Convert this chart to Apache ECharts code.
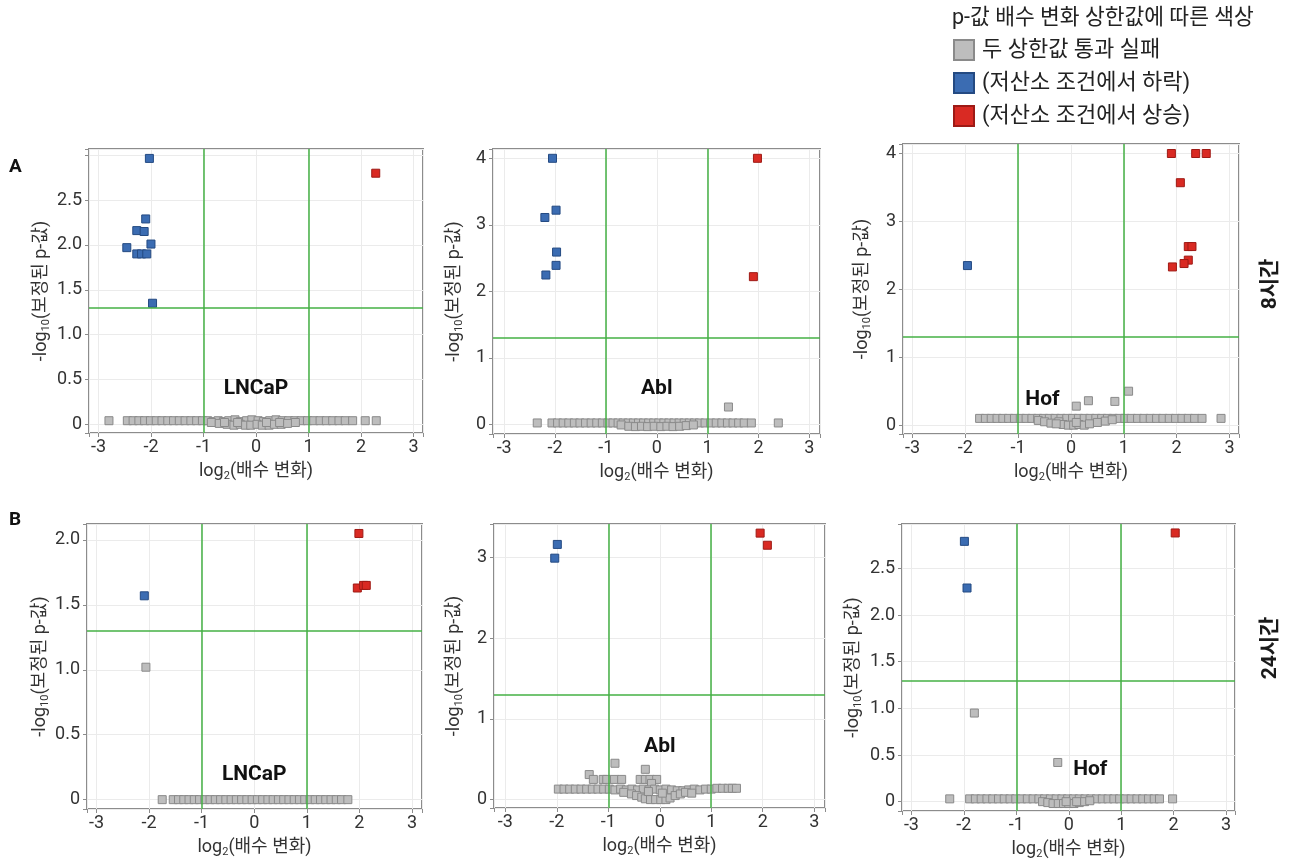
<!DOCTYPE html>
<html><head><meta charset="utf-8">
<script src="https://cdn.jsdelivr.net/npm/echarts@6/dist/echarts.min.js"></script>
<style>html,body{margin:0;padding:0;background:#fff}#c{width:1295px;height:865px}</style>
</head><body><div id="c"></div>
<script>
const FONT = 'Roboto, "Noto Sans CJK KR", sans-serif';
const seriesNames = ['두 상한값 통과 실패', '(저산소 조건에서 하락)', '(저산소 조건에서 상승)'];
const legendTitle = 'p-값 배수 변화 상한값에 따른 색상';
const cellLines = ['LNCaP', 'Abl', 'Hof', 'LNCaP', 'Abl', 'Hof'];
const timeLabels = ['8시간', '24시간'];
const panelLetters = ['A', 'B'];
const xAxisTitle = 'log{s|2}(배수 변화)';
const yAxisTitle = '-log{s|10}(보정된 p-값)';
const foldThresholds = [-1, 1];
const pThreshold = 1.301;

// ---- 8 h, LNCaP ----
const lncap8Down = [[-2.03,2.965],[-2.10,2.29],[-2.27,2.16],[-2.13,2.15],[-2.00,2.01],[-2.46,1.97],[-2.27,1.90],[-2.18,1.90],[-2.08,1.90],[-1.97,1.35]];
const lncap8Up = [[2.28,2.80]];
const lncap8NS = [[-2.80,0.04],[-2.45,0.04],[-2.34,0.04],[-2.23,0.04],[-2.12,0.04],[-2.01,0.04],[-1.90,0.04],[-1.79,0.04],[-1.68,0.04],[-1.57,0.04],[-1.46,0.04],[-1.35,0.04],[-1.24,0.04],[-1.13,0.04],[-1.02,0.04],[-0.92,0.04],[-0.82,0.03],[-0.72,0.04],[-0.62,0.03],[-0.52,0.04],[-0.40,0.05],[-0.30,0.03],[-0.18,0.04],[-0.08,0.05],[0.04,0.04],[0.14,0.03],[0.26,0.04],[0.38,0.05],[0.50,0.04],[0.62,0.04],[0.74,0.04],[0.86,0.04],[0.98,0.04],[1.10,0.04],[1.22,0.04],[1.34,0.04],[1.46,0.04],[1.58,0.04],[1.70,0.04],[1.84,0.04],[2.08,0.04],[2.29,0.04],
  [-0.85,0.02],[-0.70,0.01],[-0.55,0.0],[-0.42,-0.01],[-0.30,0.0],[-0.20,-0.01],[-0.10,-0.01],[0.02,0.0],[0.12,-0.01],[0.25,-0.01],[0.35,0.0],[0.48,0.0],[0.60,0.01],[0.75,0.02],[-0.60,0.02],[0.20,0.02],[-0.35,0.02],[0.45,0.02]];

// ---- 8 h, Abl ----
const abl8Down = [[-2.05,4.0],[-1.98,3.22],[-2.20,3.11],[-1.97,2.59],[-1.98,2.39],[-2.18,2.245]];
const abl8Up = [[1.98,4.0],[1.90,2.22]];
const abl8NS = [[-2.35,0.02],[-2.06,0.02],[-1.95,0.02],[-1.84,0.02],[-1.73,0.02],[-1.62,0.02],[-1.51,0.02],[-1.40,0.02],[-1.29,0.02],[-1.18,0.02],[-1.07,0.02],[-0.96,0.02],[-0.86,0.02],[-0.76,0.02],[-0.66,0.02],[-0.56,0.02],[-0.46,0.02],[-0.36,0.02],[-0.26,0.02],[-0.16,0.02],[-0.06,0.02],[0.04,0.02],[0.14,0.02],[0.24,0.02],[0.34,0.02],[0.44,0.02],[0.54,0.02],[0.64,0.02],[0.74,0.02],[0.84,0.02],[0.95,0.02],[1.06,0.02],[1.17,0.02],[1.28,0.02],[1.39,0.02],[1.50,0.02],[1.61,0.02],[1.72,0.02],[1.86,0.02],[2.39,0.02],[1.41,0.26],
  [-0.70,-0.01],[-0.55,-0.03],[-0.42,-0.035],[-0.30,-0.03],[-0.18,-0.035],[-0.05,-0.03],[0.08,-0.035],[0.20,-0.03],[0.32,-0.035],[0.45,-0.03],[0.58,-0.02],[0.72,-0.01]];

// ---- 8 h, Hof ----
const hof8Down = [[-1.96,2.35]];
const hof8Up = [[1.90,4.0],[2.36,4.0],[2.56,4.0],[2.07,3.57],[2.22,2.63],[2.29,2.63],[2.22,2.43],[2.14,2.38],[1.92,2.33]];
const hof8NS = [[-1.73,0.10],[-1.62,0.10],[-1.51,0.10],[-1.40,0.10],[-1.29,0.10],[-1.18,0.10],[-1.07,0.10],[-0.96,0.10],[-0.85,0.10],[-0.74,0.10],[-0.63,0.10],[-0.52,0.10],[-0.41,0.10],[-0.30,0.10],[-0.19,0.10],[-0.08,0.10],[0.03,0.10],[0.14,0.10],[0.25,0.10],[0.36,0.10],[0.47,0.10],[0.58,0.10],[0.69,0.10],[0.80,0.10],[0.91,0.10],[1.02,0.10],[1.14,0.10],[1.26,0.10],[1.38,0.10],[1.50,0.10],[1.62,0.10],[1.74,0.10],[1.86,0.10],[1.98,0.10],[2.10,0.10],[2.22,0.10],[2.34,0.10],[2.48,0.10],[2.84,0.10],
  [0.10,0.28],[0.33,0.36],[0.83,0.35],[1.09,0.50],
  [-0.62,0.07],[-0.50,0.05],[-0.38,0.03],[-0.23,0.05],[-0.15,0.01],[-0.05,0.0],[0.05,0.0],[0.15,0.01],[0.25,0.0],[0.35,0.02],[0.50,0.04],[0.65,0.06],[0.78,0.08],[-0.28,0.02],[0.10,0.04]];

// ---- 24 h, LNCaP ----
const lncap24Down = [[-2.09,1.57]];
const lncap24Up = [[1.99,2.05],[1.96,1.63],[2.08,1.65],[2.13,1.65]];
const lncap24NS = [[-2.06,1.02],[-1.75,0.0],[-1.54,0.0],[-1.44,0.0],[-1.34,0.0],[-1.24,0.0],[-1.14,0.0],[-1.04,0.0],[-0.94,0.0],[-0.84,0.0],[-0.74,0.0],[-0.64,0.0],[-0.54,0.0],[-0.44,0.0],[-0.34,0.0],[-0.24,0.0],[-0.14,0.0],[-0.04,0.0],[0.06,0.0],[0.16,0.0],[0.26,0.0],[0.36,0.0],[0.46,0.0],[0.56,0.0],[0.66,0.0],[0.76,0.0],[0.86,0.0],[0.96,0.0],[1.06,0.0],[1.16,0.0],[1.26,0.0],[1.36,0.0],[1.46,0.0],[1.56,0.0],[1.66,0.0],[1.78,0.0]];

// ---- 24 h, Abl ----
const abl24Down = [[-1.99,3.16],[-2.04,2.99]];
const abl24Up = [[1.95,3.30],[2.09,3.15]];
const abl24NS = [[-0.87,0.45],[-0.28,0.375],[-1.37,0.31],[-1.29,0.25],[-1.10,0.25],[-1.03,0.25],[-0.88,0.25],[-0.74,0.25],[-0.38,0.25],[-0.28,0.25],[-0.19,0.25],[-0.06,0.25],[-0.16,0.20],
  [-1.97,0.13],[-1.86,0.13],[-1.75,0.13],[-1.64,0.13],[-1.53,0.13],[-1.42,0.13],[-1.31,0.13],[-1.20,0.13],[-1.09,0.13],[-0.98,0.13],[-0.87,0.12],[-0.76,0.13],[-0.65,0.12],[-0.54,0.13],[-0.43,0.12],[-0.32,0.13],[-0.21,0.12],[-0.10,0.13],[0.01,0.12],[0.12,0.13],[0.23,0.12],[0.34,0.11],[0.45,0.11],[0.56,0.12],[0.67,0.13],[0.78,0.12],[0.89,0.13],[1.00,0.13],[1.11,0.14],[1.22,0.14],[1.33,0.14],[1.41,0.14],[1.49,0.14],
  [-0.70,0.09],[-0.55,0.07],[-0.45,0.05],[-0.35,0.03],[-0.28,0.01],[-0.18,0.0],[-0.08,0.0],[0.02,0.0],[0.12,0.0],[0.20,0.02],[0.30,0.05],[0.40,0.07],[0.50,0.09],[0.62,0.08],[-0.22,0.10],[0.05,0.08]];

// ---- 24 h, Hof ----
const hof24Down = [[-1.99,2.79],[-1.94,2.29]];
const hof24Up = [[2.03,2.88]];
const hof24NS = [[-1.80,0.95],[-0.21,0.42],[-2.27,0.03],[1.98,0.03],[-1.89,0.03],[-1.78,0.03],[-1.67,0.03],[-1.56,0.03],[-1.45,0.03],[-1.34,0.03],[-1.23,0.03],[-1.12,0.03],[-1.01,0.03],[-0.90,0.03],[-0.79,0.03],[-0.68,0.03],[-0.57,0.03],[-0.46,0.03],[-0.35,0.03],[-0.24,0.03],[-0.13,0.03],[-0.02,0.03],[0.09,0.03],[0.20,0.03],[0.31,0.03],[0.42,0.03],[0.53,0.03],[0.64,0.03],[0.75,0.03],[0.86,0.03],[0.97,0.03],[1.08,0.03],[1.19,0.03],[1.30,0.03],[1.41,0.03],[1.52,0.03],[1.63,0.03],[1.73,0.03],
  [-0.50,0.0],[-0.40,-0.01],[-0.30,-0.02],[-0.20,-0.02],[-0.10,-0.02],[0.0,-0.02],[0.10,-0.02],[0.20,-0.01],[0.30,0.0],[0.40,0.01],[-0.05,0.0],[0.15,0.0]];

// annotation positions (data units) for cell-line labels
const cellLabelPos = [[0,0.40],[0,0.54],[-0.54,0.38],[0,0.19],[0,0.66],[0.41,0.34]];
// highest labelled y tick per panel
const yLabelMax = [2.5, 4, 4, 2.0, 3, 2.5];

const panelData = [
  [lncap8NS, lncap8Down, lncap8Up], [abl8NS, abl8Down, abl8Up], [hof8NS, hof8Down, hof8Up],
  [lncap24NS, lncap24Down, lncap24Up], [abl24NS, abl24Down, abl24Up], [hof24NS, hof24Down, hof24Up]
];

// ---- layout ----
const grids = [
  {left: 89, top: 149, width: 334, height: 284},
  {left: 493, top: 149, width: 327, height: 285},
  {left: 903, top: 144, width: 336, height: 290},
  {left: 87, top: 524, width: 335, height: 285},
  {left: 494, top: 524, width: 331, height: 284},
  {left: 902, top: 524, width: 333, height: 287}
];
const xRanges = [[-3.18,3.18],[-3.22,3.21],[-3.18,3.18],[-3.18,3.19],[-3.22,3.21],[-3.18,3.17]];
const yRanges = [[-0.097,3.07],[-0.146,4.14],[-0.13,4.14],[-0.072,2.123],[-0.104,3.413],[-0.10,2.976]];
const ySteps = [0.5,1,1,0.5,1,0.5];
const yNameGaps = [37,28,30,35,29,38];

const colors = {
  ns: {fill: '#bdbdbd', border: '#8a8a8a'},
  down: {fill: '#3b6cb2', border: '#244a82'},
  up: {fill: '#d92a23', border: '#9e1a15'}
};
const styleKeys = ['ns', 'down', 'up'];
const GREEN = '#44b044';
const BORDER = '#8c8c8c';
const TXT = '#333333';

function isMultiple(v, step) {
  const r = v / step;
  return Math.abs(r - Math.round(r)) < 1e-6;
}

const option = {
  animation: false,
  textStyle: {fontFamily: FONT},
  title: [
    {text: legendTitle, left: 952, top: 8, padding: 0, textStyle: {fontSize: 21.5, fontWeight: 'normal', color: '#222', fontFamily: FONT}},
    {text: panelLetters[0], left: 9, top: 158, padding: 0, textStyle: {fontSize: 19, fontWeight: 'bold', color: '#111', fontFamily: FONT}},
    {text: panelLetters[1], left: 9, top: 511, padding: 0, textStyle: {fontSize: 19, fontWeight: 'bold', color: '#111', fontFamily: FONT}}
  ],
  legend: {
    data: seriesNames,
    orient: 'vertical',
    left: 953, top: 39,
    padding: 0,
    itemWidth: 20, itemHeight: 20, itemGap: 11,
    icon: 'rect',
    selectedMode: false,
    textStyle: {fontSize: 22, color: '#222', fontFamily: FONT, padding: [0, 0, 0, 3]}
  },
  graphic: [
    {type: 'text', x: 1271, y: 284, rotation: Math.PI / 2, style: {text: timeLabels[0], fontSize: 21, fontWeight: 'bold', fontFamily: FONT, fill: '#1a1a1a', align: 'center', verticalAlign: 'middle'}},
    {type: 'text', x: 1271, y: 648, rotation: Math.PI / 2, style: {text: timeLabels[1], fontSize: 21, fontWeight: 'bold', fontFamily: FONT, fill: '#1a1a1a', align: 'center', verticalAlign: 'middle'}}
  ],
  grid: [], xAxis: [], yAxis: [], series: []
};

const subRich = {s: {fontSize: 11, color: TXT, fontFamily: FONT, padding: [10, 0, 0, 0]}};

panelData.forEach((sets, i) => {
  option.grid.push(Object.assign({show: true, borderColor: BORDER, borderWidth: 2, backgroundColor: '#fff'}, grids[i]));
  option.xAxis.push({
    type: 'value', gridIndex: i, min: xRanges[i][0], max: xRanges[i][1],
    name: xAxisTitle, nameLocation: 'middle', nameGap: 28,
    nameTextStyle: {fontSize: 18, color: TXT, fontFamily: FONT, rich: subRich},
    axisLine: {show: false, onZero: false},
    axisTick: {show: true, length: 4, lineStyle: {color: BORDER, width: 1}},
    axisLabel: {fontSize: 18, color: TXT, margin: 6, fontFamily: FONT,
      formatter: v => isMultiple(v, 1) ? String(Math.round(v)) : ''},
    splitLine: {show: true, lineStyle: {color: '#ebebeb', width: 1}}
  });
  const step = ySteps[i];
  const maxLab = yLabelMax[i];
  option.yAxis.push({
    type: 'value', gridIndex: i, min: yRanges[i][0], max: yRanges[i][1],
    name: yAxisTitle, nameLocation: 'middle', nameGap: yNameGaps[i], nameRotate: 90,
    nameTextStyle: {fontSize: 18, color: TXT, fontFamily: FONT, rich: subRich},
    axisLine: {show: false, onZero: false},
    axisTick: {show: true, length: 4, lineStyle: {color: BORDER, width: 1}},
    axisLabel: {fontSize: 18, color: TXT, margin: 7, fontFamily: FONT,
      formatter: v => {
        if (!isMultiple(v, step) || v > maxLab + 1e-6) return '';
        if (Math.abs(v) < 1e-9) return '0';
        return step < 1 ? v.toFixed(1) : String(Math.round(v));
      }},
    splitLine: {show: true, lineStyle: {color: '#ebebeb', width: 1}}
  });
  sets.forEach((data, k) => {
    const c = colors[styleKeys[k]];
    option.series.push({
      type: 'scatter', name: seriesNames[k], xAxisIndex: i, yAxisIndex: i,
      data: data, symbol: 'rect', symbolSize: 8,
      itemStyle: {color: c.fill, borderColor: c.border, borderWidth: 1, opacity: 1},
      emphasis: {disabled: true}, silent: true
    });
  });
  // thresholds
  option.series.push({
    type: 'scatter', name: 'thr' + i, xAxisIndex: i, yAxisIndex: i, data: [],
    silent: true, z: 4,
    markLine: {
      silent: true, symbol: ['none', 'none'], label: {show: false}, animation: false,
      lineStyle: {color: GREEN, width: 1.5, type: 'solid', opacity: 1},
      emphasis: {disabled: true},
      data: [{xAxis: foldThresholds[0]}, {xAxis: foldThresholds[1]}, {yAxis: pThreshold}]
    }
  });
  // cell-line annotation
  option.series.push({
    type: 'scatter', name: 'lab' + i, xAxisIndex: i, yAxisIndex: i,
    data: [{value: cellLabelPos[i], name: cellLines[i]}],
    symbolSize: 1, itemStyle: {color: 'rgba(255,255,255,0)'}, silent: true, z: 5,
    label: {show: true, position: 'inside', formatter: '{b}', fontSize: 21, fontWeight: 'bold',
      color: '#111', opacity: 1, textBorderWidth: 0, fontFamily: FONT}
  });
});

const chart = echarts.init(document.getElementById('c'), null, {renderer: 'canvas'});
chart.setOption(option);
</script>
</body></html>
